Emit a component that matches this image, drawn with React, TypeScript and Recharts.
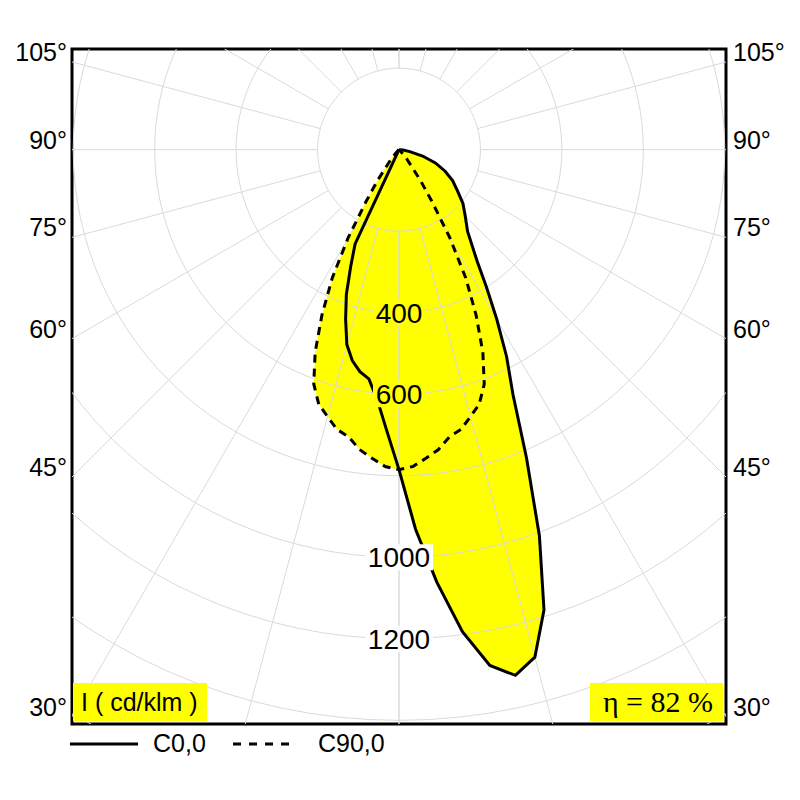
import { ComposedChart, Scatter, XAxis, YAxis, ReferenceArea } from 'recharts';

// photometric data, gamma angle (deg from nadir) -> intensity (cd/klm)
const gammaAngles = [0, 2.5, 5, 7.5, 10, 12.5, 15, 17.5, 20, 22.5, 25, 27.5, 30, 32.5, 35, 40, 45, 50, 55, 60, 65, 70, 75, 80, 85, 90];
const c0Values = [785, 932, 1065, 1193, 1285, 1321, 1289, 1184, 1008, 818, 662, 572, 480, 400, 335, 262, 230, 205, 175, 152, 125, 95, 60, 27, 10, 0];
const c180Values = [785, 690, 615, 567, 553, 530, 495, 436, 378, 310, 255, 0, 0, 0, 0, 0, 0, 0, 0, 0, 0, 0, 0, 0, 0, 0];
const c90Values = [785, 778, 760, 742, 715, 703, 678, 655, 612, 538, 448, 355, 250, 150, 90, 30, 8, 0, 0, 0, 0, 0, 0, 0, 0, 0];

const gridRadii = [200, 400, 600, 800, 1000, 1200, 1400, 1600];
const spokeAngles = [0, 15, 30, 45, 60, 75, 90, 105, 120, 135, 150, 165, 180];
const ringLabels = [400, 600, 1000, 1200];
const angleTicks = [30, 45, 60, 75, 90, 105];

const X_DOMAIN: [number, number] = [-803, 803];
const Y_DOMAIN: [number, number] = [-1409, 247];
const FONT = '"Liberation Sans", Arial, sans-serif';
const YELLOW = '#ffff00';
const GRID = '#dadada';

const rad = (d: number) => (d * Math.PI) / 180;
const polar = (g: number, i: number, side: number) => ({ x: side * i * Math.sin(rad(g)), y: -i * Math.cos(rad(g)) });

const curve = (left: number[], right: number[]) => [
    ...gammaAngles.map((g, k) => polar(g, left[k], -1)).reverse(),
    ...gammaAngles.map((g, k) => polar(g, right[k], 1)),
];

const solidCurve = curve(c180Values, c0Values);
const dashedCurve = curve(c90Values, c90Values);

const circleSteps = Array.from({ length: 121 }, (_, k) => k * 3);
const gridCircles = gridRadii.map((r) => circleSteps.map((a) => polar(a, r, 1)));
const spokes = spokeAngles.flatMap((a) => [-1, 1].map((s) => [polar(a, 200, s), polar(a, 2400, s)]));
const labelData = ringLabels.map((v) => ({ x: 0, y: -v, v }));

const tickValues = angleTicks.map((a) => -X_DOMAIN[1] / Math.tan(rad(a)));
const angleOf = (v: number) => Math.round((Math.atan2(X_DOMAIN[1], -v) * 180) / Math.PI) + '°';

const Empty = () => <g />;

const RingLabel = (p: any) => {
    const { cx, cy, payload } = p;
    const txt = String(payload.v);
    const w = txt.length * 16 + 4;
    return (
        <g>
            <rect x={cx - w / 2} y={cy - 13} width={w} height={26} fill={payload.v < 800 ? YELLOW : '#fff'} />
            <text x={cx} y={cy + 10} textAnchor="middle" fontSize={28} fontFamily={FONT} fill="#000">
                {txt}
            </text>
        </g>
    );
};

const AngleTick = (p: any) => (
    <text x={p.x} y={p.y - 1} textAnchor={p.textAnchor} fontSize={25} fontFamily={FONT} fill="#000">
        {angleOf(p.payload.value)}
    </text>
);

export default function App() {
    return (
        <div style={{ position: 'absolute', left: 0, top: 0, width: 800, height: 800, background: '#fff' }}>
            <ComposedChart width={800} height={800} margin={{ top: 49, right: 0, bottom: 76, left: 0 }}>
                <XAxis type="number" dataKey="x" domain={X_DOMAIN} allowDataOverflow hide />
                <YAxis
                    yAxisId="left"
                    type="number"
                    dataKey="y"
                    domain={Y_DOMAIN}
                    allowDataOverflow
                    width={72}
                    ticks={tickValues}
                    interval={0}
                    axisLine={false}
                    tickLine={false}
                    tickSize={0}
                    tickMargin={5}
                    tick={<AngleTick />}
                />
                <YAxis
                    yAxisId="right"
                    orientation="right"
                    type="number"
                    dataKey="y"
                    domain={Y_DOMAIN}
                    allowDataOverflow
                    width={74}
                    ticks={tickValues}
                    interval={0}
                    axisLine={false}
                    tickLine={false}
                    tickSize={0}
                    tickMargin={7}
                    tick={<AngleTick />}
                />

                {/* yellow fills */}
                <Scatter yAxisId="left" data={solidCurve} line={{ fill: YELLOW, stroke: 'none' }} shape={<Empty />} isAnimationActive={false} />
                <Scatter yAxisId="left" data={dashedCurve} line={{ fill: YELLOW, stroke: 'none' }} shape={<Empty />} isAnimationActive={false} />

                {/* polar grid */}
                {gridCircles.map((pts, i) => (
                    <Scatter key={`c${i}`} yAxisId="left" data={pts} line={{ stroke: GRID, strokeWidth: 1, fill: 'none' }} shape={<Empty />} isAnimationActive={false} />
                ))}
                {spokes.map((pts, i) => (
                    <Scatter key={`s${i}`} yAxisId="left" data={pts} line={{ stroke: GRID, strokeWidth: 1, fill: 'none' }} shape={<Empty />} isAnimationActive={false} />
                ))}

                {/* outlines */}
                <Scatter yAxisId="left" data={solidCurve} line={{ stroke: '#000', strokeWidth: 3, fill: 'none' }} shape={<Empty />} isAnimationActive={false} />
                <Scatter yAxisId="left" data={dashedCurve} line={{ stroke: '#000', strokeWidth: 3, strokeDasharray: '8 6', fill: 'none' }} shape={<Empty />} isAnimationActive={false} />

                <Scatter yAxisId="left" data={labelData} shape={<RingLabel />} isAnimationActive={false} />

                <ReferenceArea yAxisId="left" x1={X_DOMAIN[0]} x2={X_DOMAIN[1]} y1={Y_DOMAIN[0]} y2={Y_DOMAIN[1]} fill="none" stroke="#000" strokeWidth={3} fillOpacity={0} ifOverflow="visible" />
            </ComposedChart>

            <div style={{ position: 'absolute', left: 73, top: 683, width: 134, height: 38, background: YELLOW, fontFamily: FONT, fontSize: 25, lineHeight: '38px', paddingLeft: 8, boxSizing: 'border-box', whiteSpace: 'nowrap' }}>
                I ( cd/klm )
            </div>
            <div style={{ position: 'absolute', left: 590, top: 683, width: 133, height: 38, background: YELLOW, fontFamily: '"Liberation Serif", "Times New Roman", serif', fontSize: 30, lineHeight: '38px', textAlign: 'right', paddingRight: 10, boxSizing: 'border-box', whiteSpace: 'nowrap' }}>
                η = 82 %
            </div>

            <svg style={{ position: 'absolute', left: 0, top: 725 }} width={400} height={40}>
                <line x1={70} y1={19} x2={138} y2={19} stroke="#000" strokeWidth={3} />
                <text x={153} y={27} fontSize={25} fontFamily={FONT} fill="#000">C0,0</text>
                <line x1={233} y1={19} x2={290} y2={19} stroke="#000" strokeWidth={3} strokeDasharray="8 8" />
                <text x={318} y={27} fontSize={25} fontFamily={FONT} fill="#000">C90,0</text>
            </svg>
        </div>
    );
}
